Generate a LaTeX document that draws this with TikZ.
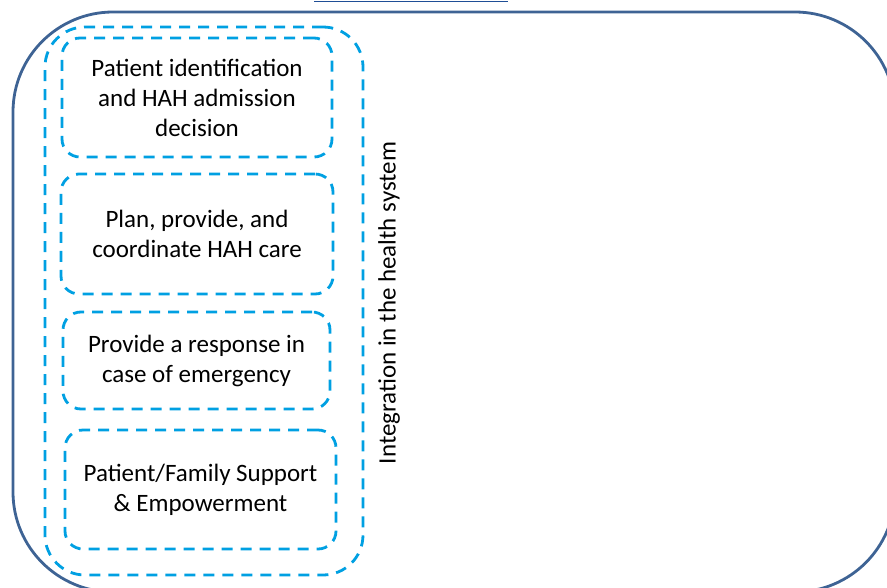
\documentclass[tikz,border=0pt]{standalone}
\usepackage{fontspec}
\setmainfont{Carlito}
\definecolor{framecol}{HTML}{3E6394}
\definecolor{dashcol}{HTML}{00A0E2}
\definecolor{linkcol}{HTML}{1F4E96}
\begin{document}
\begin{tikzpicture}[x=1pt,y=-1pt,
  bigframe/.style={draw=framecol,line width=2.8pt,rounded corners=100pt,inner sep=0pt},
  outerdash/.style={draw=dashcol,line width=2.8pt,dash pattern=on 11pt off 8pt,rounded corners=40pt,inner sep=0pt},
  stepbox/.style={draw=dashcol,line width=2.8pt,dash pattern=on 11pt off 8pt,rounded corners=18pt,inner sep=0pt,align=center,font=\fontsize{25}{30}\selectfont},
  sidelabel/.style={font=\fontsize{25}{30}\selectfont,rotate=90,inner sep=0pt}]
\useasboundingbox (0,0) rectangle (887,587);
\node[bigframe,minimum width=882pt,minimum height=580pt] (frame) at (454,302) {};
\draw[linkcol,line width=1.4pt] (314,1.2) -- (508,1.2);
\node[outerdash,minimum width=318pt,minimum height=548pt] (outer) at (204,301) {};
\node[stepbox,minimum width=270pt,minimum height=119pt] (s1) at (197,97.5) {Patient identification\\and HAH admission\\decision};
\node[stepbox,minimum width=272pt,minimum height=120pt] (s2) at (197,234) {Plan, provide, and\\coordinate HAH care};
\node[stepbox,minimum width=267pt,minimum height=97pt] (s3) at (196.5,360.5) {Provide a response in\\case of emergency};
\node[stepbox,minimum width=271pt,minimum height=119pt] (s4) at (200.5,489.5) {Patient/Family Support\\\& Empowerment};
\node[sidelabel] (integ) at (389,303) {Integration in the health system};
\end{tikzpicture}
\end{document}
